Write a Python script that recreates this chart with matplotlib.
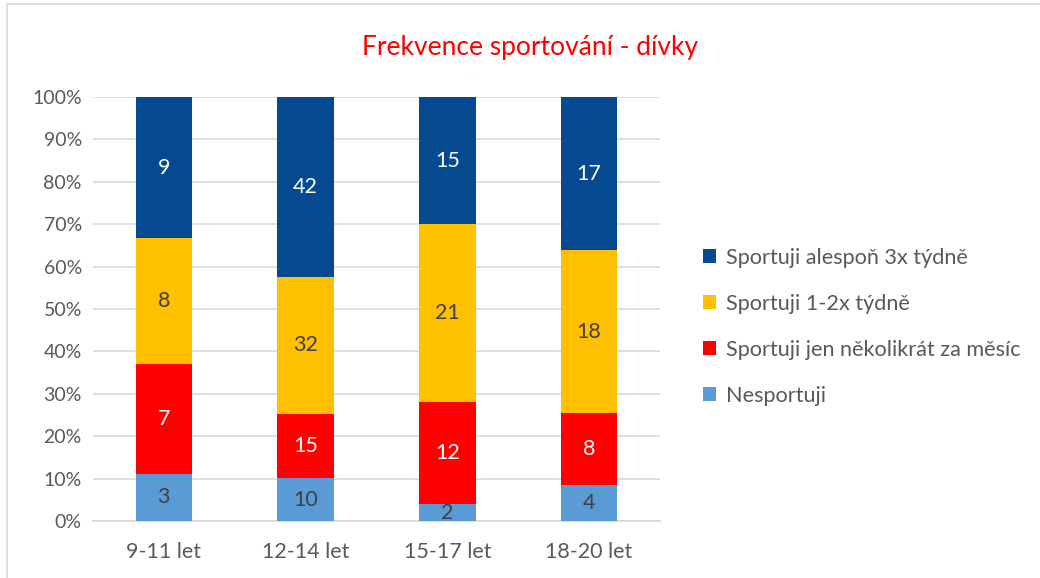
import matplotlib.pyplot as plt
import matplotlib.patches as mpatches
import numpy as np

plt.rcParams['font.family'] = ['Lato', 'DejaVu Sans']

categories = ['9-11 let', '12-14 let', '15-17 let', '18-20 let']
nesportuji = [3, 10, 2, 4]
mesicne = [7, 15, 12, 8]
tydne_1_2 = [8, 32, 21, 18]
tydne_3 = [9, 42, 15, 17]

series = [
    ('Nesportuji', nesportuji, '#5B9BD5', '#404040'),
    ('Sportuji jen několikrát za měsíc', mesicne, '#FF0000', 'white'),
    ('Sportuji 1-2x týdně', tydne_1_2, '#FFC000', '#404040'),
    ('Sportuji alespoň 3x týdně', tydne_3, '#054A91', 'white'),
]

totals = np.sum([s[1] for s in series], axis=0)

fig = plt.figure(figsize=(10.4, 5.78), dpi=100)
ax = fig.add_axes([0.0894, 0.0986, 0.5452, 0.7336])

x = np.arange(len(categories))
bottom = np.zeros(len(categories))
handles = []
for name, vals, color, tcolor in series:
    share = np.array(vals) / totals
    bars = ax.bar(x, share, 0.4, bottom=bottom, color=color, label=name, zorder=3)
    for xi, b, s, v in zip(x, bottom, share, vals):
        ax.text(xi, b + s / 2, str(v), ha='center', va='center',
                color=tcolor, fontsize=15.5)
    bottom += share
    handles.append(bars)

ax.set_xlim(-0.5, 3.5)
ax.set_ylim(0, 1)
ax.set_yticks(np.arange(0, 1.01, 0.1))
ax.set_yticklabels([f'{int(round(v * 100))}%' for v in np.arange(0, 1.01, 0.1)])
ax.set_xticks(x)
ax.set_xticklabels(categories)
ax.tick_params(axis='both', length=0, colors='#595959')
ax.tick_params(axis='x', pad=15, labelsize=15.5)
ax.tick_params(axis='y', pad=8, labelsize=14)
ax.grid(axis='y', color='#d9d9d9', linewidth=1.2, zorder=0)
for sp in ['top', 'right', 'left']:
    ax.spines[sp].set_visible(False)
ax.spines['bottom'].set_color('#d9d9d9')
ax.spines['bottom'].set_linewidth(1.2)

fig.text(0.51, 0.918, 'Frekvence sportování - dívky', ha='center', va='center',
         color='#FF0000', fontsize=19)

leg = fig.legend(handles[::-1], [s[0] for s in series][::-1],
                 loc='center left', bbox_to_anchor=(0.657, 0.435),
                 frameon=False, fontsize=15.6, labelspacing=1.2,
                 handlelength=0.62, handleheight=0.62, handletextpad=0.45)
for t in leg.get_texts():
    t.set_color('#595959')

fig.patches.append(mpatches.Rectangle((0.007, -0.01), 1.1, 1.0 - 0.007 + 0.01,
                                      transform=fig.transFigure, fill=False,
                                      edgecolor='#d9d9d9', linewidth=1.2))

fig.savefig('out.png', dpi=100)
